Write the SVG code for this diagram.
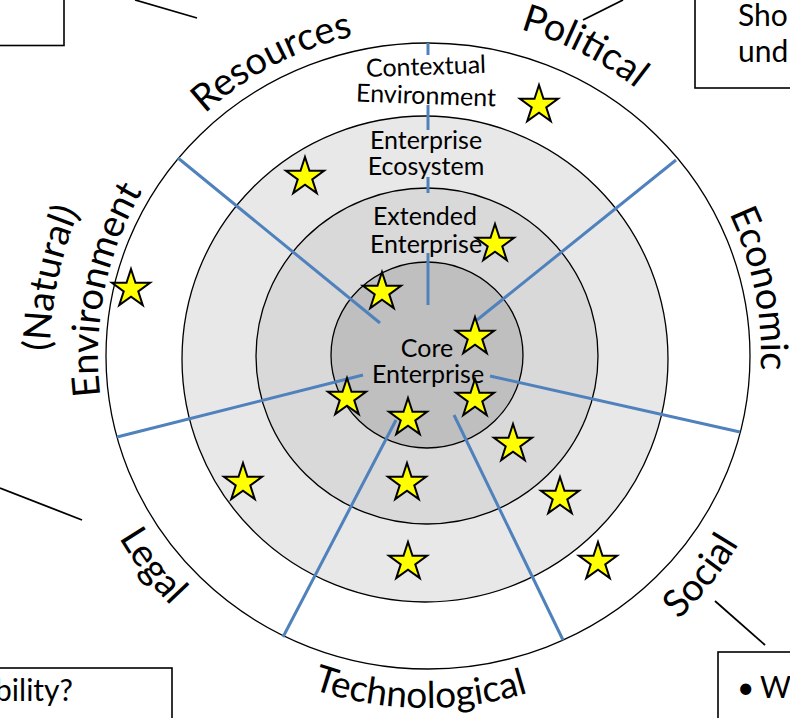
<svg xmlns="http://www.w3.org/2000/svg" xmlns:xlink="http://www.w3.org/1999/xlink" width="790" height="718" viewBox="0 0 790 718">
<style>
.ring{stroke:#000;stroke-width:1.3}
.in{font-family:Lato,"Open Sans",sans-serif;font-size:25px;fill:#000;text-anchor:middle}
.out{font-family:Lato,"Open Sans",sans-serif;font-size:38px;fill:#000}
.box{fill:#fff;stroke:#000;stroke-width:1.6}
.bt{font-family:Lato,"Open Sans",sans-serif;font-size:30px;fill:#000}
.spoke{stroke:#4F81BD;stroke-width:3;fill:none}
.call{stroke:#000;stroke-width:1.8;fill:none}
.star{fill:#FFFF00;stroke:#000;stroke-width:2}
</style>
<defs>
<polygon id="star" class="star" points="0,-20 4.49,-6.18 19.02,-6.18 7.27,2.36 11.76,16.18 0,7.64 -11.76,16.18 -7.27,2.36 -19.02,-6.18 -4.49,-6.18"/>
<path id="pRes" d="M149.1,180.3 A328,328 0 0 1 439.7,28.3"/>
<path id="pPol" d="M438.5,16.2 A340,340 0 0 1 694.3,147.1"/>
<path id="pNat" d="M69,474.1 A376,376 0 0 1 145.3,105.9"/>
<path id="pEnv" d="M114.8,459.5 A328,328 0 0 1 180.7,138.2"/>
<path id="pEco" d="M677.3,134.5 A335,335 0 0 1 743.5,462.9"/>
<path id="pSoc" d="M559.2,695.9 A365,365 0 0 0 786.9,410.6"/>
<path id="pTec" d="M195.1,621.7 A352,352 0 0 0 647.5,629.5"/>
<path id="pLeg" d="M72.1,402.6 A357,357 0 0 0 289.4,685.8"/>
</defs>
<rect width="790" height="718" fill="#fff"/>

<g id="contextual-environment">
<ellipse class="ring" cx="428" cy="356" rx="322" ry="313" fill="#fff"/>
</g>
<g id="enterprise-ecosystem">
<ellipse class="ring" cx="425" cy="359" rx="243" ry="243" fill="#e8e8e8"/>
</g>
<g id="extended-enterprise">
<ellipse class="ring" cx="427" cy="356" rx="171" ry="168" fill="#d9d9d9"/>
</g>
<g id="core-enterprise">
<ellipse class="ring" cx="427" cy="355" rx="96" ry="93" fill="#bfbfbf"/>
</g>

<g id="connectors">
<path class="spoke" d="M428,43V55 M428,105V130 M428,177V193 M428,253V305"/>
<line class="spoke" x1="178" y1="158" x2="380" y2="323"/>
<line class="spoke" x1="676" y1="160" x2="477" y2="320"/>
<line class="spoke" x1="117" y1="437" x2="363" y2="375"/>
<line class="spoke" x1="740" y1="432" x2="490" y2="376"/>
<line class="spoke" x1="283" y1="637" x2="396" y2="420"/>
<line class="spoke" x1="563" y1="640" x2="454" y2="415"/>
<line class="call" x1="135" y1="0" x2="197" y2="18"/>
<line class="call" x1="583" y1="20" x2="623" y2="0"/>
<line class="call" x1="0" y1="488" x2="82" y2="520"/>
<line class="call" x1="715" y1="601" x2="765" y2="645"/>
</g>

<g id="ring-labels">
<text class="in" transform="rotate(-2 426 68)" x="426" y="75">Contextual</text>
<text class="in" transform="rotate(2 426 97)" x="426" y="104">Environment</text>
<text class="in" x="426" y="149">Enterprise</text>
<text class="in" x="426" y="175">Ecosystem</text>
<text class="in" x="425" y="225">Extended</text>
<text class="in" x="426" y="253">Enterprise</text>
<text class="in" x="427" y="357">Core</text>
<text class="in" x="428" y="383">Enterprise</text>
</g>

<g id="label-resources"><text class="out"><textPath href="#pRes" startOffset="50%" text-anchor="middle">Resources</textPath></text></g>
<g id="label-political"><text class="out"><textPath href="#pPol" startOffset="50%" text-anchor="middle">Political</textPath></text></g>
<g id="label-natural-environment">
<text class="out"><textPath href="#pNat" startOffset="50%" text-anchor="middle">(Natural)</textPath></text>
<text class="out"><textPath href="#pEnv" startOffset="50%" text-anchor="middle">Environment</textPath></text>
</g>
<g id="label-economic"><text class="out"><textPath href="#pEco" startOffset="50%" text-anchor="middle">Economic</textPath></text></g>
<g id="label-social"><text class="out"><textPath href="#pSoc" startOffset="50%" text-anchor="middle">Social</textPath></text></g>
<g id="label-technological"><text class="out" style="font-size:37px"><textPath href="#pTec" startOffset="50%" text-anchor="middle">Technological</textPath></text></g>
<g id="label-legal"><text class="out"><textPath href="#pLeg" startOffset="50%" text-anchor="middle">Legal</textPath></text></g>

<g id="stars">
<use href="#star" x="539" y="105"/>
<use href="#star" x="305" y="177"/>
<use href="#star" x="131" y="289"/>
<use href="#star" x="495" y="244"/>
<use href="#star" x="382" y="292"/>
<use href="#star" x="475" y="337"/>
<use href="#star" x="347" y="398"/>
<use href="#star" x="408" y="418"/>
<use href="#star" x="475" y="399"/>
<use href="#star" x="513" y="444"/>
<use href="#star" x="243" y="483"/>
<use href="#star" x="407" y="483"/>
<use href="#star" x="560" y="497"/>
<use href="#star" x="408" y="562"/>
<use href="#star" x="598" y="562"/>
</g>

<g id="box-top-left"><rect class="box" x="-10" y="-10" width="74" height="55.5"/></g>
<g id="box-top-right">
<rect class="box" x="695" y="-10" width="110" height="98"/>
<text class="bt" x="738" y="26">Sho</text>
<text class="bt" x="738" y="62">und</text>
</g>
<g id="box-bottom-left">
<rect class="box" x="-10" y="668" width="182" height="60"/>
<text class="bt" x="73" y="701" text-anchor="end">bility?</text>
</g>
<g id="box-bottom-right">
<rect class="box" x="718" y="652" width="100" height="80"/>
<text class="bt" x="737" y="698">•</text>
<text class="bt" x="760" y="698">W</text>
</g>
</svg>
